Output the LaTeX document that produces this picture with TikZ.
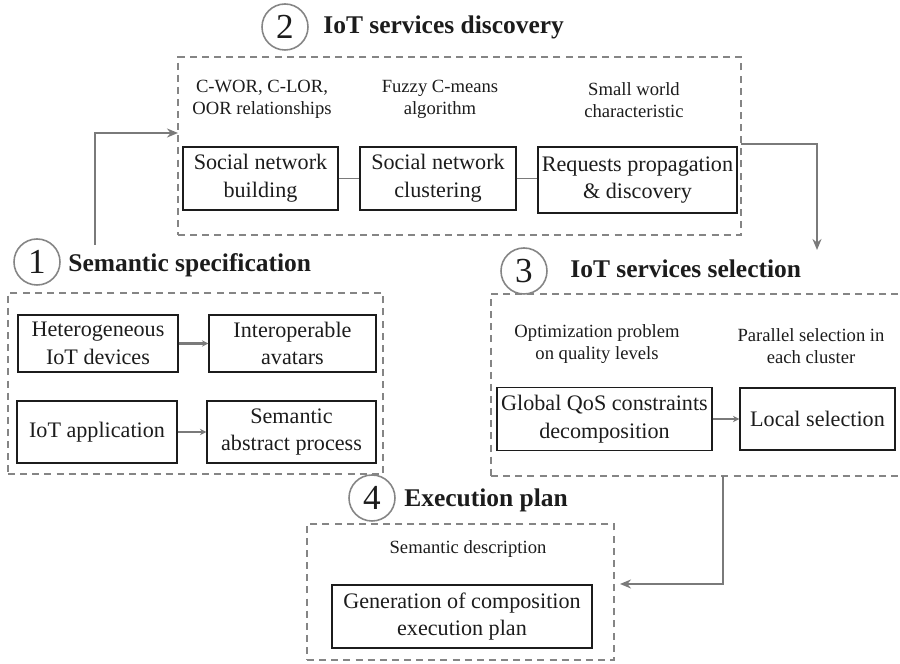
\documentclass[tikz,border=0pt]{standalone}
\usepackage{fontspec}
\setmainfont{Liberation Serif}
\usetikzlibrary{arrows.meta}
\definecolor{dashgray}{HTML}{858585}
\definecolor{linkgray}{HTML}{7a7a7a}
\definecolor{inkdark}{HTML}{1c1c1c}
\tikzset{
  stage/.style={draw=dashgray, dash pattern=on 4pt off 2.9pt, line width=1pt, inner sep=0pt, outer sep=0pt},
  stepnum/.style={circle, draw=dashgray, line width=0.9pt, minimum size=0.92cm, inner sep=0pt, text=inkdark, font=\fontsize{20}{20}\selectfont},
  stagetitle/.style={anchor=west, inner sep=0pt, text=inkdark, font=\bfseries\fontsize{14.5}{16}\selectfont},
  note/.style={align=center, text=inkdark, font=\fontsize{10.6}{12.5}\selectfont},
  task/.style={draw=inkdark, line width=0.7pt, align=center, minimum height=1.26cm, inner sep=1pt, text=inkdark, font=\fontsize{12.6}{15.8}\selectfont},
  flow/.style={-{Stealth[length=2.2mm, width=1.8mm]}, line width=1.1pt, color=linkgray},
  link/.style={line width=1pt, color=linkgray},
  linkto/.style={-{Stealth[length=1.3mm, width=1.3mm]}, line width=1.2pt, color=linkgray}
}

\begin{document}
\begin{tikzpicture}
\useasboundingbox (0,0) rectangle (18,13.28);

% 2 -- discovery
\node[stepnum] (n2) at (5.70,12.74) {2};
\node[stagetitle] (t2) at (6.46,12.74) {IoT services discovery};
\node[stage, minimum width=11.26cm, minimum height=3.56cm] (disc) at (9.19,10.36) {};
\node[note] (d1) at (5.24,11.30) {C-WOR, C-LOR,\\OOR relationships};
\node[note] (d2) at (8.80,11.30) {Fuzzy C-means\\algorithm};
\node[note] (d3) at (12.68,11.27) {Small world\\characteristic};
\node[task, minimum width=3.10cm] (snb) at (5.21,9.71) {Social network\\building};
\node[task, minimum width=3.12cm] (snc) at (8.76,9.71) {Social network\\clustering};
\node[task, minimum width=3.98cm, minimum height=1.32cm] (rpd) at (12.75,9.68) {Requests propagation\\\& discovery};
\draw[link] (snb) -- (snc);
\draw[link] (snc) -- (snc -| rpd.west);

% 1 -- specification
\node[stepnum] (n1) at (0.74,8.04) {1};
\node[stagetitle] (t1) at (1.36,7.98) {Semantic specification};
\node[stage, minimum width=7.50cm, minimum height=3.62cm] (spec) at (3.91,5.61) {};
\node[task, minimum width=3.20cm, minimum height=1.14cm] (hid) at (1.96,6.41) {Heterogeneous\\IoT devices};
\node[task, minimum width=3.34cm, minimum height=1.14cm] (iav) at (5.85,6.41) {Interoperable\\avatars};
\node[task, minimum width=3.20cm, minimum height=1.24cm] (app) at (1.94,4.64) {IoT application};
\node[task, minimum width=3.38cm, minimum height=1.24cm] (sap) at (5.83,4.64) {Semantic\\abstract process};
\draw[linkto] (hid) -- (iav);
\draw[linkto] (app) -- (sap);

% 3 -- selection
\node[stepnum] (n3) at (10.48,7.86) {3};
\node[stagetitle] (t3) at (11.40,7.90) {IoT services selection};
\node[stage, minimum width=8.80cm, minimum height=3.64cm] (sel) at (14.22,5.58) {};
\node[note] (s1) at (11.94,6.40) {Optimization problem\\on quality levels};
\node[note] (s2) at (16.22,6.36) {Parallel selection in\\each cluster};
\node[task, minimum width=4.30cm] (gqc) at (12.09,4.90) {Global QoS constraints\\decomposition};
\node[task, minimum width=3.10cm, minimum height=1.24cm] (lsel) at (16.35,4.90) {Local selection};
\draw[linkto] (gqc) -- (lsel);

% 4 -- execution plan
\node[stepnum] (n4) at (7.44,3.32) {4};
\node[stagetitle] (t4) at (8.08,3.28) {Execution plan};
\node[stage, minimum width=6.14cm, minimum height=2.72cm] (plan) at (9.21,1.44) {};
\node[note] (p1) at (9.36,2.30) {Semantic description};
\node[task, minimum width=5.20cm] (gen) at (9.24,0.95) {Generation of composition\\execution plan};

% stage to stage
\coordinate (a1) at (1.90,8.38);
\coordinate (a2) at (16.34,8.28);
\coordinate (a3) at (14.46,3.76);
\draw[flow] (a1) |- ([yshift=0.26cm]disc.west);
\draw[flow] ([yshift=0.04cm]disc.east) -| (a2);
\draw[flow] (a3) |- ([xshift=0.12cm, yshift=0.16cm]plan.east);
\end{tikzpicture}
\end{document}
